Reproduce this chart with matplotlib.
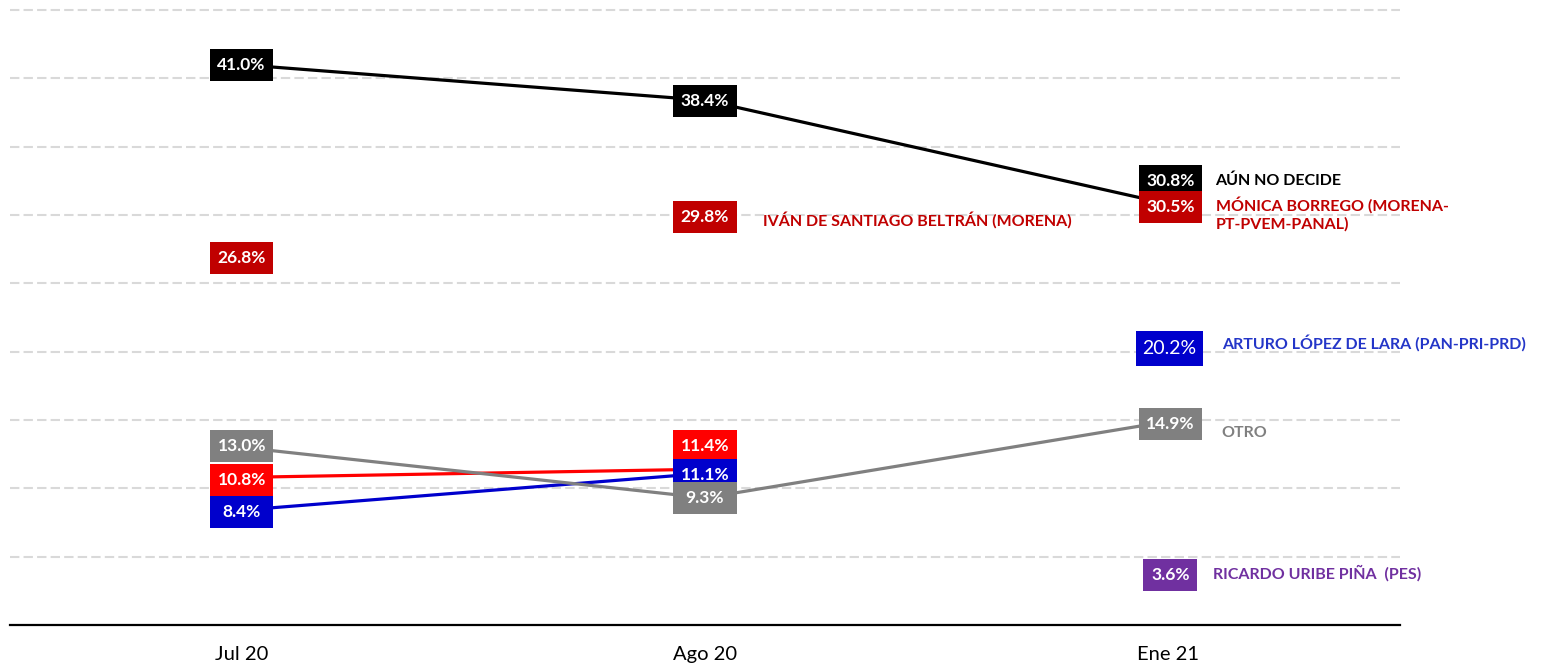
"""
Intención de voto - serie Jul 20 / Ago 20 / Ene 21
"""
import numpy as np
import matplotlib
matplotlib.use("Agg")
import matplotlib.pyplot as plt
from matplotlib.patches import Rectangle
from matplotlib.transforms import ScaledTranslation

plt.rcParams["font.family"] = ["Lato", "DejaVu Sans"]

# Datos
meses = ["Jul 20", "Ago 20", "Ene 21"]
no_decide = [41.0, 38.4, 30.8]
otro = [13.0, 9.3, 14.9]
morena = [26.8, 29.8, 30.5]
rojo = [10.8, 11.4, np.nan]
azul = [8.4, 11.1, np.nan]
arturo = [np.nan, np.nan, 20.2]
pes = [np.nan, np.nan, 3.6]

C_NEGRO = "#000000"
C_GUINDA = "#C00000"
C_ROJO = "#FF0000"
C_AZUL = "#0000CC"
C_GRIS = "#808080"
C_MORADO = "#7030A0"

x = np.arange(len(meses))

fig = plt.figure(figsize=(15.44, 6.70), dpi=100)
ax = fig.add_axes([10 / 1544, 45 / 670, 1390 / 1544, 615 / 670])
ax.set_xlim(-0.5, 2.5)
ax.set_ylim(0, 45)

# grid
for yv in range(5, 46, 5):
    ax.axhline(yv, color="#D9D9D9", lw=1.5, dashes=(4.5, 2), zorder=0, clip_on=False)

for s in ["top", "left", "right"]:
    ax.spines[s].set_visible(False)
ax.spines["bottom"].set_linewidth(1.6)
ax.set_yticks([])
ax.set_xticks(x)
ax.set_xticklabels(meses, fontsize=14.5)
ax.tick_params(axis="x", length=0, pad=15)

# lineas
ax.plot(x, no_decide, color=C_NEGRO, lw=2.3, zorder=2)
ax.plot(x, rojo, color=C_ROJO, lw=2.3, zorder=2)
ax.plot(x, azul, color=C_AZUL, lw=2.3, zorder=2)
ax.plot(x, otro, color=C_GRIS, lw=2.3, zorder=3)

# tamaño de caja en unidades de datos (px / escala)
BW = 63 / 463
BH = 32 / 13.67


def etiqueta(xi, val, color, dy=0, dx=0, bold=True, w=BW, h=BH, fs=12.5):
    if np.isnan(val):
        return
    tr = ax.transData + ScaledTranslation(dx / 72, dy / 72, fig.dpi_scale_trans)
    ax.add_patch(Rectangle((xi - w / 2, val - h / 2), w, h, transform=tr,
                           fc=color, ec="none", zorder=4))
    ax.text(xi, val, f"{val:.1f}%", transform=tr, ha="center", va="center",
            fontsize=fs, color="white", fontweight="bold" if bold else "normal", zorder=5)


offs_negro = [0, -0.5, 16.5]
offs_rojo = [-2, 16.5, 0]
offs_otro = [1, 0, -2]
for i in range(3):
    d = 1.5 if i == 2 else 0
    etiqueta(x[i], no_decide[i], C_NEGRO, dy=offs_negro[i], dx=d)
    etiqueta(x[i], morena[i], C_GUINDA, dy=0.8, dx=d)
    etiqueta(x[i], rojo[i], C_ROJO, dy=offs_rojo[i])
    etiqueta(x[i], azul[i], C_AZUL, dy=-1.5)
    etiqueta(x[i], otro[i], C_GRIS, dy=offs_otro[i], dx=d)
    etiqueta(x[i], arturo[i], C_AZUL, dy=0.5, dx=0.5, bold=False, w=67 / 463, h=35 / 13.67, fs=14)
    etiqueta(x[i], pes[i], C_MORADO, dy=0.5, dx=1.5, w=54 / 463)


def nombre(xi, val, txt, color, dx, dy):
    ax.annotate(txt, xy=(xi, val), xytext=(dx, dy), textcoords="offset points",
                ha="left", va="center", fontsize=11.5, fontweight="bold",
                color=color, zorder=5, linespacing=1.3)


nombre(2, no_decide[2], "AÚN NO DECIDE", C_NEGRO, 34, 17)
nombre(2, morena[2], "MÓNICA BORREGO (MORENA-\nPT-PVEM-PANAL)", C_GUINDA, 34, -4)
nombre(1, morena[1], "IVÁN DE SANTIAGO BELTRÁN (MORENA)", C_GUINDA, 42, -2)
nombre(2, arturo[2], "ARTURO LÓPEZ DE LARA (PAN-PRI-PRD)", "#2436C8", 39, 4)
nombre(2, otro[2], "OTRO", C_GRIS, 38, -8.5)
nombre(2, pes[2], "RICARDO URIBE PIÑA  (PES)", C_MORADO, 32, 1.5)

fig.savefig("out.png", dpi=100)
